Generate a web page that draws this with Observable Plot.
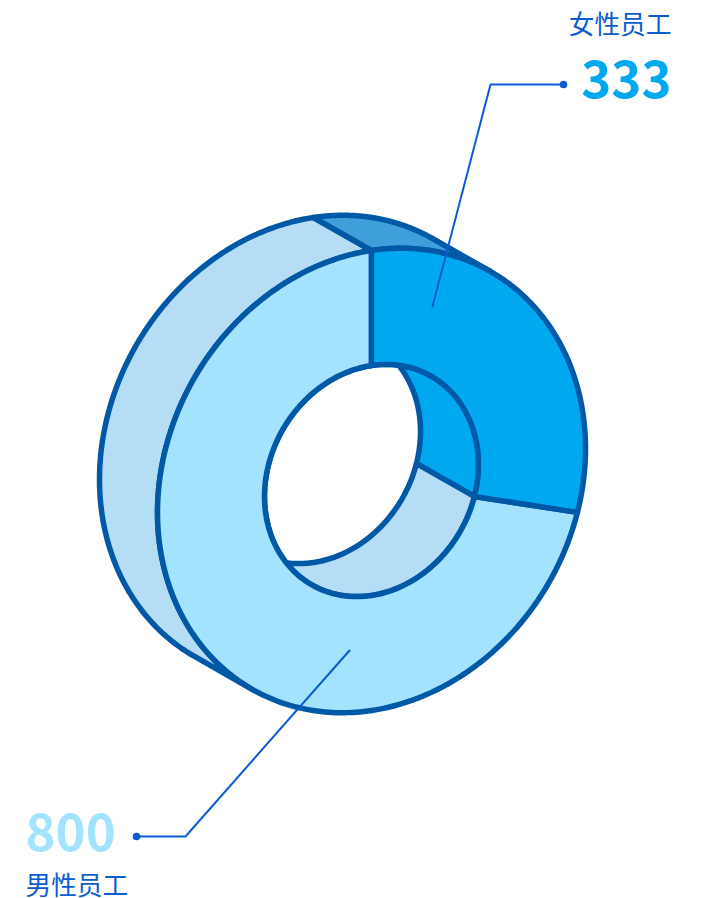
<!DOCTYPE html>
<html><head><meta charset="utf-8">
<style>html,body{margin:0;padding:0;background:#fff;overflow:hidden}svg{display:block}</style>
<script src="https://cdn.jsdelivr.net/npm/d3@7"></script>
<script src="https://cdn.jsdelivr.net/npm/@observablehq/plot@0.6"></script>
</head><body><div id="chart"></div>
<script>
const categories = ["女性员工", "男性员工"];
const values = [333, 800];
const faceColors = ["#00a9ef", "#a3e3ff"];
const outerWallColors = ["#3f9fdb", "#b5ddf6"];
const innerWallColors = ["#00a9ef", "#b5ddf6"];

const W = 709, H = 898;
const outline = "#0059a6", accent = "#0a5cd0";
const font = "'Noto Sans CJK SC','Noto Sans',sans-serif";
// oblique view of the ring: centre, two axes of the unit circle, extrusion offset
const C = [371, 480], U = [0, -230], V = [214, -32], D = [-58, -33];
const innerRatio = 0.5;

const TAU = 2 * Math.PI;
const pt = (a, r, back) => ({
  x: C[0] + r * (U[0] * Math.cos(a) + V[0] * Math.sin(a)) + (back ? D[0] : 0),
  y: C[1] + r * (U[1] * Math.cos(a) + V[1] * Math.sin(a)) + (back ? D[1] : 0)
});
const arc = (a0, a1, r, back) => d3.range(0, 241).map(i => pt(a0 + (a1 - a0) * i / 240, r, back));
const closed = a => [...a, a[0]];

// pie angles from the data, clockwise from the top
const total = d3.sum(values);
const cuts = d3.cumsum(values).map(v => v / total * TAU);
const starts = [0, cuts[0]], ends = [cuts[0], TAU];

// silhouette tangents of the extruded ring
const det = U[0] * V[1] - U[1] * V[0];
const du = (D[0] * V[1] - D[1] * V[0]) / det, dv = (U[0] * D[1] - U[1] * D[0]) / det;
const t1 = Math.atan2(dv, du) + Math.PI / 2, t2 = t1 + Math.PI;

const outerWalls = [
  closed([...arc(0, t1, 1, true), ...arc(t1, 0, 1, false)]),
  closed([...arc(t2, TAU, 1, false), ...arc(TAU, t2, 1, true)])
];
const innerWalls = starts.map((s, i) => closed([...arc(s, ends[i], innerRatio, false), ...arc(ends[i], s, innerRatio, true)]));
const faces = starts.map((s, i) => closed([...arc(s, ends[i], 1, false), ...arc(ends[i], s, innerRatio, false)]));

const shape = (d, fill) => Plot.line(d, {x: "x", y: "y", fill, stroke: outline, strokeWidth: 5.5, strokeLinejoin: "round", curve: "linear"});

const leaders = [
  [{x: 563, y: 84}, {x: 490, y: 84}, {x: 432, y: 306}],
  [{x: 136, y: 836}, {x: 185, y: 836}, {x: 349, y: 650}]
];
const labels = [
  {name: categories[0], value: values[0], nx: 671, ny: 25, vx: 671, vy: 81, anchor: "end", color: faceColors[0]},
  {name: categories[1], value: values[1], nx: 25, ny: 886, vx: 25, vy: 834, anchor: "start", color: faceColors[1]}
];

const chart = Plot.plot({
  width: W, height: H, margin: 0,
  x: {domain: [0, W], range: [0, W], axis: null},
  y: {domain: [0, H], range: [0, H], axis: null},
  marks: [
    shape(outerWalls[1], outerWallColors[1]),
    shape(outerWalls[0], outerWallColors[0]),
    shape(innerWalls[1], innerWallColors[1]),
    shape(innerWalls[0], innerWallColors[0]),
    shape(faces[1], faceColors[1]),
    shape(faces[0], faceColors[0]),
    ...leaders.map(l => Plot.line(l, {x: "x", y: "y", stroke: accent, strokeWidth: 2, curve: "linear"})),
    Plot.dot(leaders.map(l => l[0]), {x: "x", y: "y", r: 3.8, fill: accent}),
    ...labels.flatMap(l => [
      Plot.text([l], {x: "nx", y: "ny", text: "name", textAnchor: l.anchor, fontSize: 25.7, fontFamily: font, fill: accent, lineAnchor: "middle"}),
      Plot.text([l], {x: "vx", y: "vy", text: d => String(d.value), textAnchor: l.anchor, fontSize: 51, fontWeight: 700, fontFamily: font, fill: l.color, lineAnchor: "middle"})
    ])
  ]
});
document.getElementById("chart").append(chart);
</script></body></html>
